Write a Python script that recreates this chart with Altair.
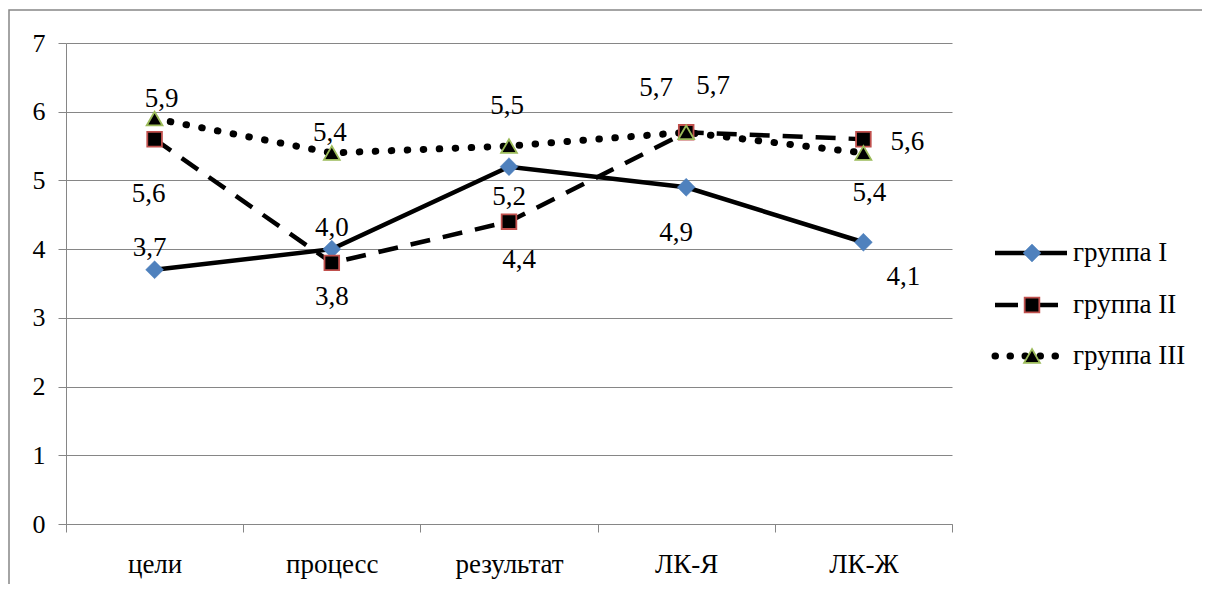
import altair as alt
import pandas as pd

categories = ["цели", "процесс", "результат", "ЛК-Я", "ЛК-Ж"]
series_names = ["группа I", "группа II", "группа III"]
values_I = [3.7, 4.0, 5.2, 4.9, 4.1]
values_II = [5.6, 3.8, 4.4, 5.7, 5.6]
values_III = [5.9, 5.4, 5.5, 5.7, 5.4]
y_ticks = [0, 1, 2, 3, 4, 5, 6, 7]

# data-label offsets in pixels, relative to each point
label_dx = [[-5, 0, 0, -10, 40], [-6, 0, 10, -30, 44], [7, -2, -2, 27, 6]]
label_dy = [[-22, -21, 30, 46, 35], [55, 34, 38, -44, 3], [-20, -20, -40, -46, 40]]

W, H = 886, 481
FONT = "Liberation Serif"
GREY = "#868686"

all_values = [values_I, values_II, values_III]
line_styles = [
    dict(strokeWidth=4.5),
    dict(strokeWidth=4.5, strokeDash=[20, 13]),
    dict(strokeWidth=7, strokeDash=[0.5, 15.5], strokeCap="round"),
]
point_styles = [
    dict(shape="diamond", size=320, fill="#4F81BD", stroke="#4F81BD", strokeWidth=0.5, opacity=1, filled=True),
    dict(shape="square", size=215, fill="#000000", stroke="#C0504D", strokeWidth=1.8, opacity=1, filled=True),
    dict(shape="triangle-up", size=250, fill="#000000", stroke="#9BBB59", strokeWidth=1.8, opacity=1, filled=True),
]
legend_y = [210, 262, 313]
legend_line_styles = [
    dict(strokeWidth=4.5),
    dict(strokeWidth=4.5, strokeDash=[23, 17]),
    dict(strokeWidth=7, strokeDash=[0.5, 14.5], strokeCap="round"),
]

xenc = alt.X(
    "cat:N",
    sort=categories,
    bandPosition=0.5,
    scale=alt.Scale(type="band", domain=categories, paddingInner=0, paddingOuter=0),
    axis=alt.Axis(
        title=None, labelAngle=0, tickBand="extent", grid=False,
        domainColor=GREY, tickColor=GREY, tickSize=8,
        labelFontSize=27, labelColor="black", labelPadding=19,
    ),
)
yenc = alt.Y(
    "val:Q",
    scale=alt.Scale(domain=[0, 7], nice=False, zero=True),
    axis=alt.Axis(
        title=None, values=y_ticks, grid=True, gridColor=GREY,
        domainColor=GREY, tickColor=GREY, tickSize=8,
        labelFontSize=26, labelColor="black", labelPadding=13,
    ),
)

layers = []
frames = []
for s, vals in enumerate(all_values):
    df = pd.DataFrame({
        "cat": categories,
        "val": vals,
        "lab": [f"{v:.1f}".replace(".", ",") for v in vals],
    })
    frames.append(df)
    layers.append(alt.Chart(df).mark_line(color="black", **line_styles[s]).encode(x=xenc, y=yenc))

for s, df in enumerate(frames):
    layers.append(alt.Chart(df).mark_point(**point_styles[s]).encode(x=xenc, y=yenc))

for s, df in enumerate(frames):
    for i in range(len(categories)):
        one = df.iloc[[i]]
        layers.append(
            alt.Chart(one).mark_text(
                fontSize=27, color="black", align="center", baseline="middle",
                dx=label_dx[s][i], dy=label_dy[s][i],
            ).encode(x=xenc, y=yenc, text="lab:N")
        )

for s, name in enumerate(series_names):
    ldf = pd.DataFrame({"name": [name]})
    layers.append(
        alt.Chart(ldf).mark_rule(color="black", **legend_line_styles[s]).encode(
            x=alt.value(929), x2=alt.value(1001), y=alt.value(legend_y[s])
        )
    )
    layers.append(
        alt.Chart(ldf).mark_point(**point_styles[s]).encode(
            x=alt.value(966), y=alt.value(legend_y[s])
        )
    )
    layers.append(
        alt.Chart(ldf).mark_text(
            fontSize=27, color="black", align="left", baseline="middle"
        ).encode(x=alt.value(1007), y=alt.value(legend_y[s]), text="name:N")
    )

frame = alt.Chart(pd.DataFrame({"a": [0]})).mark_rect(
    fillOpacity=0, stroke=GREY, strokeWidth=1.5
).encode(x=alt.value(-57), x2=alt.value(1400), y=alt.value(-33), y2=alt.value(800))
layers.append(frame)

chart = alt.layer(*layers).properties(
    width=W, height=H,
    autosize=alt.AutoSizeParams(type="none"),
    padding={"left": 58, "top": 35, "right": 250, "bottom": 60},
).configure(font=FONT).configure_view(stroke=None)

chart.save("out.html", embed_options={"renderer": "svg", "actions": False})
